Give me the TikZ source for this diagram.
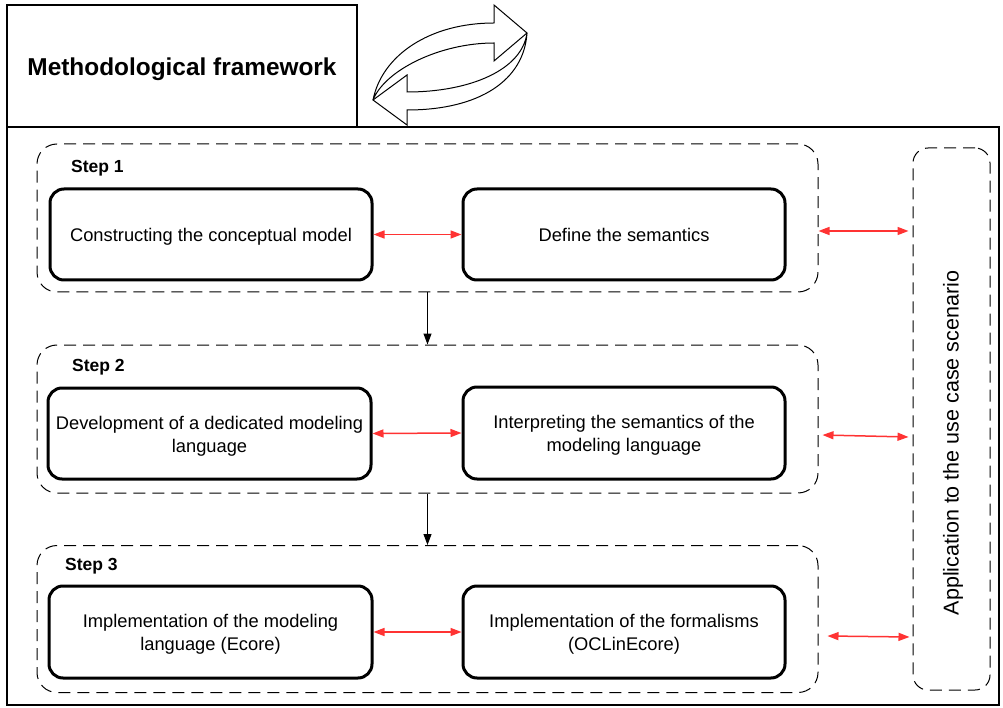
\documentclass[tikz,border=0pt]{standalone}
\usepackage{fontspec}
\setmainfont{Liberation Sans}
\usetikzlibrary{arrows.meta}
\definecolor{linkred}{HTML}{FF3333}
\begin{document}
\begin{tikzpicture}[x=1pt,y=-1pt,
  framebox/.style={draw, line width=2.5pt},
  stepframe/.style={draw, line width=1pt, dash pattern=on 12pt off 7pt, rounded corners=20pt},
  taskbox/.style={draw, line width=3pt, rounded corners=14pt},
  tasktext/.style={align=center, inner sep=0pt, font=\fontsize{18.3}{23}\selectfont},
  steplabel/.style={anchor=west, inner sep=0pt, font=\fontsize{17.5}{21}\bfseries},
  redlink/.style={linkred, line width=1.5pt,
    {Triangle[length=11pt,width=8pt]}-{Triangle[length=11pt,width=8pt]}},
  downlink/.style={line width=1pt, -{Triangle[length=11pt,width=8pt]}},
  cycle arrow/.style={draw, line width=1pt, line join=miter}
]
\useasboundingbox (0,0) rectangle (1003,708);

% title block and outer frame
\node[framebox, minimum width=350pt, minimum height=122pt] (title) at (182,66) {};
\node[inner sep=0pt, font=\fontsize{24.4}{29}\bfseries] (titletext) at ([yshift=-3pt]title.center)
  {Methodological framework};
\draw[framebox] (7,127) rectangle (999,705);

% cyclic double arrow next to the title
\draw[cycle arrow] (494,23) -- (494,5) -- (527,33) -- (494,61) -- (494,43)
  .. controls (440,43) and (385,70) .. (373,100)
  .. controls (382,55) and (430,23) .. cycle;
\draw[cycle arrow] (407,92) -- (407,75) -- (373,100) -- (407,125) -- (407,110)
  .. controls (480,110) and (524,80) .. (527,33)
  .. controls (522,70) and (470,92) .. cycle;

% step frames
\node[stepframe, minimum width=781pt, minimum height=148pt] (s1) at (427.5,218) {};
\node[stepframe, minimum width=781pt, minimum height=148pt] (s2) at (427.5,419) {};
\node[stepframe, minimum width=781pt, minimum height=147pt] (s3) at (427.5,619) {};

\node[steplabel] (l1) at (71,168) {Step 1};
\node[steplabel] (l2) at (72,367) {Step 2};
\node[steplabel] (l3) at (65,566) {Step 3};

% application frame
\node[stepframe, rounded corners=15pt, minimum width=77pt, minimum height=542pt] (app) at (951.5,419) {};
\node[rotate=90, inner sep=0pt, font=\fontsize{21.5}{26}\selectfont] (apptext) at (953,443)
  {Application to the use case scenario};

% task boxes
\node[taskbox, minimum width=322pt, minimum height=91pt] (a1) at (211,234.5) {};
\node[taskbox, minimum width=322pt, minimum height=91pt] (b1) at (624,234.5) {};
\node[taskbox, minimum width=323pt, minimum height=91pt] (a2) at (209.5,433.5) {};
\node[taskbox, minimum width=322pt, minimum height=92pt] (b2) at (624,433) {};
\node[taskbox, minimum width=323pt, minimum height=92pt] (a3) at (210.5,632) {};
\node[taskbox, minimum width=322pt, minimum height=92pt] (b3) at (624,632) {};

% task captions, set a little below the box centres when they have descenders
\node[tasktext] (a1t) at ([yshift=-2.5pt]a1.center) {Constructing the conceptual model};
\node[tasktext] (b1t) at ([yshift=-0.5pt]b1.center) {Define the semantics};
\node[tasktext] (a2t) at ([yshift=-2.5pt]a2.center) {Development of a dedicated modeling\\language};
\node[tasktext] (b2t) at ([yshift=-2.5pt]b2.center) {Interpreting the semantics of the\\modeling language};
\node[tasktext] (a3t) at ([yshift=-2.5pt]a3.center) {Implementation of the modeling\\language (Ecore)};
\node[tasktext] (b3t) at ([yshift=-2.5pt]b3.center) {Implementation of the formalisms\\(OCLinEcore)};

% links between tasks
\draw[redlink] (a1.east) -- (b1.west);
\draw[redlink] (a2.east) -- (b2.west);
\draw[redlink] (a3.east) -- (b3.west);

% links to the application frame
\draw[redlink] ([yshift=-13pt]s1.east) -- ([xshift=-4pt]app.west |- 0,231);
\draw[redlink] ([xshift=4pt]s2.east |- 0,435) -- ([xshift=-4pt]app.west |- 0,437);
\draw[redlink] ([xshift=9pt]s3.east |- 0,636) -- ([xshift=-3pt]app.west |- 0,637);

% sequence between steps
\draw[downlink] (s1.south) -- (s2.north);
\draw[downlink] (s2.south) -- (s3.north);
\end{tikzpicture}
\end{document}
